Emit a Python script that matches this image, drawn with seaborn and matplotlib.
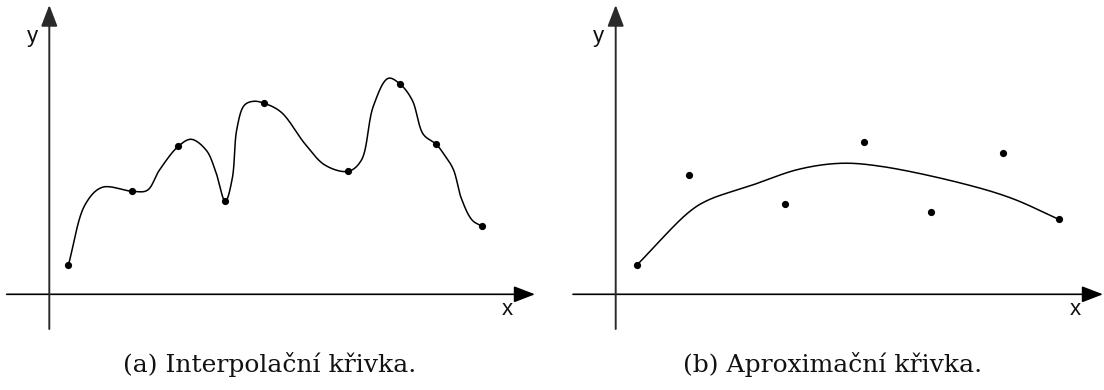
import numpy as np
import pandas as pd
import matplotlib
matplotlib.use("Agg")
import matplotlib.pyplot as plt
import seaborn as sns

# ---- (a) interpolation: data points and the curve passing through them ----
interp_x = [1.9, 8.3, 12.9, 17.6, 21.5, 29.9, 35.1, 38.7, 43.3]
interp_y = [2.9, 10.3, 14.8, 9.3, 19.1, 12.3, 21.0, 15.0, 6.8]

# path vertices of the interpolation curve (data points plus its turning points)
interp_curve_x = [1.9, 3.6, 5.3, 8.3, 9.8, 11.0, 12.9, 14.2, 15.7, 16.6,
                  17.6, 18.3, 18.75, 19.5, 20.4, 21.5, 23.2, 25.6, 27.6,
                  29.9, 31.2, 32.4, 33.9, 35.1, 36.3, 37.4, 38.7, 39.4,
                  40.4, 41.2, 42.3, 43.3]
interp_curve_y = [2.9, 9.0, 10.7, 10.3, 10.4, 12.4, 14.8, 15.5, 14.4, 12.4,
                  9.3, 11.6, 16.5, 18.9, 19.3, 19.1, 18.2, 15.0, 12.9,
                  12.3, 13.4, 18.8, 21.6, 21.0, 19.4, 16.0, 15.0, 14.1,
                  12.5, 9.6, 7.4, 6.8]

# ---- (b) approximation: data points and the fitted curve ----
approx_x = [2.1, 7.3, 16.9, 24.8, 31.5, 38.7, 44.3]
approx_y = [2.9, 11.9, 9.0, 15.2, 8.2, 14.1, 7.5]

approx_curve_x = [2.1, 7.3, 9.2, 13.6, 18.3, 22.5, 26.5, 34.6, 39.6, 44.3]
approx_curve_y = [2.9, 8.2, 9.4, 10.9, 12.5, 13.1, 12.8, 11.1, 9.6, 7.5]

captions = ["(a) Interpolační křivka.", "(b) Aproximační křivka."]


def catmull_rom(px, py, per_seg=60, alpha=0.5):
    """Centripetal Catmull-Rom path through the given vertices."""
    P = np.column_stack([px, py]).astype(float)
    P = np.vstack([2 * P[0] - P[1], P, 2 * P[-1] - P[-2]])
    out = []
    for i in range(1, len(P) - 2):
        p0, p1, p2, p3 = P[i - 1], P[i], P[i + 1], P[i + 2]
        t0 = 0.0
        t1 = t0 + np.linalg.norm(p1 - p0) ** alpha
        t2 = t1 + np.linalg.norm(p2 - p1) ** alpha
        t3 = t2 + np.linalg.norm(p3 - p2) ** alpha
        t = np.linspace(t1, t2, per_seg)[:, None]
        a1 = (t1 - t) / (t1 - t0) * p0 + (t - t0) / (t1 - t0) * p1
        a2 = (t2 - t) / (t2 - t1) * p1 + (t - t1) / (t2 - t1) * p2
        a3 = (t3 - t) / (t3 - t2) * p2 + (t - t2) / (t3 - t2) * p3
        b1 = (t2 - t) / (t2 - t0) * a1 + (t - t0) / (t2 - t0) * a2
        b2 = (t3 - t) / (t3 - t1) * a2 + (t - t1) / (t3 - t1) * a3
        c = (t2 - t) / (t2 - t1) * b1 + (t - t1) / (t2 - t1) * b2
        out.append(c if i == 1 else c[1:])
    c = np.vstack(out)
    return pd.DataFrame({"x": c[:, 0], "y": c[:, 1], "order": np.arange(len(c))})


sns.set_theme(style="white")
plt.rcParams["font.family"] = ["DejaVu Sans"]

fig = plt.figure(figsize=(11.04, 3.9), dpi=100)
ax_a = fig.add_axes([0.0, 50 / 390, 0.5, 340 / 390])
ax_b = fig.add_axes([0.5, 50 / 390, 0.5, 340 / 390])

arrow_kw = dict(arrowstyle="-|>,head_length=0.65,head_width=0.25",
                color="black", lw=1.2, shrinkA=0, shrinkB=0,
                mutation_scale=20)


def draw_axes(ax, xlim, x_span, y_span):
    ax.set_xlim(*xlim)
    ax.set_ylim(-4.57, 29.43)
    ax.annotate("", xy=(x_span[1], 0), xytext=(x_span[0], 0),
                arrowprops=arrow_kw, annotation_clip=False)
    ax.annotate("", xy=(0, y_span[1]), xytext=(0, y_span[0]),
                arrowprops=dict(arrow_kw, color="#2a2a2a", lw=1.4),
                annotation_clip=False)
    ax.text(-1.7, 25.75, "y", ha="center", va="center", fontsize=16,
            family="Liberation Sans", color="#111111")
    ax.text(x_span[1] - 2.8, -1.5, "x", ha="center", va="center",
            fontsize=16, family="Liberation Sans", color="#111111")


# Panel (a)
draw_axes(ax_a, (-4.93, 50.27), (-4.26, 48.57), (-3.47, 28.93))
curve_a = catmull_rom(interp_curve_x, interp_curve_y)
sns.lineplot(data=curve_a, x="x", y="y", ax=ax_a, color="black", lw=1.1,
             sort=False, estimator=None)
ax_a.plot(interp_x, interp_y, "o", color="black", ms=5.2, mew=0)

# Panel (b)
draw_axes(ax_b, (-6.37, 48.83), (-4.27, 48.73), (-3.47, 28.93))
curve_b = catmull_rom(approx_curve_x, approx_curve_y)
sns.lineplot(data=curve_b, x="x", y="y", ax=ax_b, color="black", lw=1.1,
             sort=False, estimator=None)
ax_b.plot(approx_x, approx_y, "o", color="black", ms=5.2, mew=0)

for ax in (ax_a, ax_b):
    ax.set_xlabel("")
    ax.set_ylabel("")
    ax.set_axis_off()

fig.text(269.3 / 1104, (390 - 371.7) / 390, captions[0], ha="center",
         va="baseline", fontsize=18, family="DejaVu Serif", color="#111111")
fig.text(832.5 / 1104, (390 - 371.7) / 390, captions[1], ha="center",
         va="baseline", fontsize=18, family="DejaVu Serif", color="#111111")

fig.savefig("out.png", dpi=100, facecolor="white")
